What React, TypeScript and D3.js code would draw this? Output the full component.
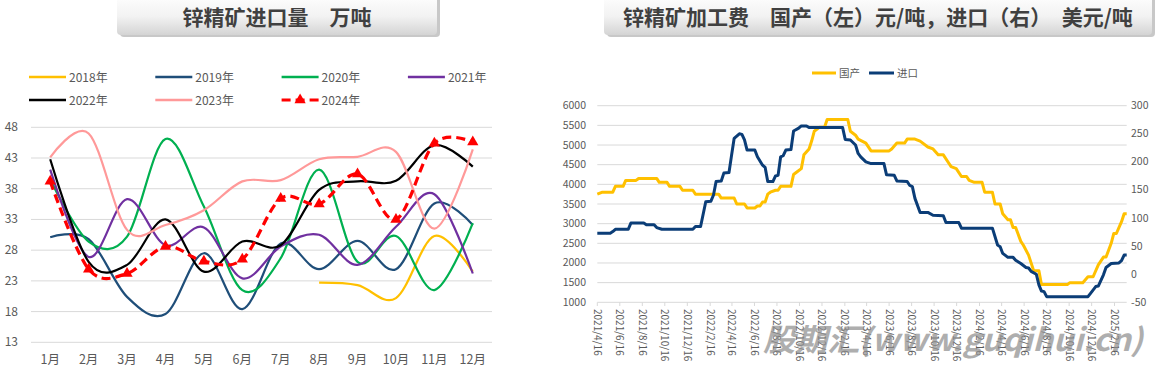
import React from 'react';
import * as d3 from 'd3';

const FONT = '"Noto Sans CJK SC", "Noto Sans", sans-serif';
const GRID = '#d9d9d9';
const TXT = '#595959';

// ---- left chart: monthly zinc concentrate imports (10k t) ----
const months = ['1月', '2月', '3月', '4月', '5月', '6月', '7月', '8月', '9月', '10月', '11月', '12月'];
const leftTicks = [13, 18, 23, 28, 33, 38, 43, 48];
const yearNames = ['2018年', '2019年', '2020年', '2021年', '2022年', '2023年', '2024年'];
const yearColors = ['#ffc000', '#1f4e79', '#00b050', '#7030a0', '#000000', '#ff9999', '#ff0000'];

const v2018 = [null, null, null, null, null, null, null, 22.7, 22.3, 20.2, 30.3, 24.5];
const v2019 = [30.1, 29.8, 20.4, 17.6, 27.5, 18.4, 29.1, 24.9, 29.5, 24.9, 35.6, 32.1];
const v2020 = [39.5, 29.4, 30.2, 46.1, 35.1, 21.5, 26.7, 41.1, 26.1, 30.3, 21.5, 32.4];
const v2021 = [41.1, 26.9, 36.3, 28.8, 31.7, 23.4, 28.6, 30.5, 25.6, 31.8, 37.1, 24.2];
const v2022 = [42.8, 26.1, 25.6, 33.0, 24.5, 29.4, 28.8, 37.8, 39.2, 39.3, 45.1, 41.6];
const v2023 = [43.1, 47.0, 31.3, 32.1, 34.5, 39.2, 39.4, 42.8, 43.2, 44.0, 31.5, 44.4];
const v2024 = [39.2, 24.9, 24.2, 28.6, 26.2, 26.5, 36.4, 35.5, 40.4, 33.0, 45.4, 45.6];
const yearSeries = [v2018, v2019, v2020, v2021, v2022, v2023, v2024];

// ---- right chart: TC, weekly from 2021/4/16; [week, value] vertices ----
const tcStart = new Date(2021, 3, 16);
const tcWeeks = 205;
const dateTicks = ['2021/4/16', '2021/6/16', '2021/8/16', '2021/10/16', '2021/12/16', '2022/2/16',
  '2022/4/16', '2022/6/16', '2022/8/16', '2022/10/16', '2022/12/16', '2023/2/16', '2023/4/16',
  '2023/6/16', '2023/8/16', '2023/10/16', '2023/12/16', '2024/2/16', '2024/4/16', '2024/6/16',
  '2024/8/16', '2024/10/16', '2024/12/16', '2025/2/16'];
const domesticTicks = [1000, 1500, 2000, 2500, 3000, 3500, 4000, 4500, 5000, 5500, 6000];
const importTicks = [-50, 0, 50, 100, 150, 200, 250, 300];

const domesticTC: [number, number][] = [
  [0, 3750], [2, 3800], [6, 3800], [7, 3950], [10, 3950], [11, 4100], [15, 4100], [16, 4150],
  [23, 4150], [24, 4050], [27, 4050], [28, 3950], [32, 3950], [33, 3850], [37, 3850], [38, 3750],
  [47, 3750], [48, 3650], [53, 3650], [54, 3500], [57, 3500], [58, 3400], [61, 3400], [62, 3450],
  [63, 3450], [64, 3550], [65, 3550], [66, 3750], [67, 3800], [69, 3850], [70, 3850], [71, 3950],
  [75, 3950], [76, 4250], [77, 4300], [79, 4400], [80, 4750], [82, 4900], [83, 5100], [84, 5350],
  [86, 5450], [88, 5450], [89, 5650], [97, 5650], [98, 5350], [100, 5250], [101, 5150], [104, 5050],
  [106, 4850], [113, 4850], [114, 4900], [116, 5050], [119, 5050], [120, 5150], [123, 5150],
  [125, 5100], [128, 4950], [130, 4900], [132, 4750], [134, 4750], [136, 4550], [137, 4450],
  [139, 4400], [141, 4200], [143, 4200], [144, 4100], [146, 4050], [149, 4050], [150, 3800],
  [153, 3800], [154, 3500], [156, 3500], [157, 3250], [159, 3100], [160, 3100], [161, 2900],
  [162, 2900], [164, 2550], [165, 2450], [167, 2200], [169, 1800], [171, 1800], [172, 1450],
  [182, 1450], [183, 1500], [188, 1500], [190, 1650], [192, 1650], [194, 1950], [196, 2150],
  [197, 2150], [199, 2500], [200, 2750], [201, 2750], [203, 3050], [204, 3250], [205, 3250],
];

const importTC: [number, number][] = [
  [0, 73], [5, 73], [6, 76], [7, 80], [12, 80], [13, 91], [18, 91], [19, 88], [22, 88], [23, 83],
  [25, 80], [37, 80], [38, 85], [40, 85], [42, 129], [44, 130], [45, 141], [46, 165], [48, 166],
  [49, 180], [51, 181], [52, 212], [53, 242], [55, 250], [56, 249], [57, 239], [58, 221], [61, 221],
  [62, 209], [64, 194], [65, 190], [66, 165], [68, 165], [69, 175], [70, 176], [71, 209], [72, 211],
  [73, 221], [75, 222], [76, 255], [78, 260], [79, 264], [81, 264], [82, 261], [95, 261], [96, 240],
  [98, 239], [100, 230], [101, 215], [102, 209], [104, 200], [106, 197], [111, 197], [112, 177],
  [115, 176], [116, 166], [120, 165], [121, 158], [122, 156], [123, 135], [125, 110], [128, 110],
  [130, 105], [134, 104], [135, 92], [140, 92], [141, 82], [153, 82], [155, 52], [156, 49],
  [157, 37], [159, 30], [161, 30], [162, 25], [164, 19], [166, 12], [167, 11], [168, 5], [170, 0],
  [171, -19], [172, -30], [173, -31], [174, -40], [190, -40], [191, -34], [193, -22], [194, -21],
  [196, -1], [197, 12], [199, 19], [202, 20], [203, 24], [204, 34], [205, 34],
];

const Banner: React.FC<{ x: number; w: number; text: string; id: string }> = ({ x, w, text, id }) => (
  <g>
    <defs>
      <linearGradient id={id} x1="0" y1="0" x2="0" y2="1">
        <stop offset="0%" stopColor="#ffffff" />
        <stop offset="55%" stopColor="#f2f2f2" />
        <stop offset="100%" stopColor="#d4d4d4" />
      </linearGradient>
    </defs>
    <rect x={x + 3} y={-4} width={w} height={41} rx={4} fill="#9a9a9a" opacity={0.55} />
    <rect x={x} y={-6} width={w} height={41} rx={4} fill={`url(#${id})`} />
    <text x={x + w / 2} y={25} textAnchor="middle" fontSize={21} fontWeight="bold" fill="#404040"
      fontFamily={FONT}>{text}</text>
  </g>
);

const LeftChart: React.FC = () => {
  const x = d3.scalePoint<string>().domain(months).range([31, 492]).padding(0.5);
  const y = d3.scaleLinear().domain([13, 48]).range([342.3, 127.3]);
  const line = d3.line<number | null>()
    .defined(v => v != null)
    .x((_, i) => x(months[i]) as number)
    .y(v => y(v as number))
    .curve(d3.curveCardinal.tension(0));
  const tri = d3.symbol(d3.symbolTriangle, 55)() as string;

  return (
    <g fontFamily={FONT}>
      {leftTicks.map(t => (
        <g key={t}>
          <line x1={31} x2={492} y1={y(t)} y2={y(t)} stroke={GRID} strokeWidth={1} />
          <text x={18} y={y(t) + 4} textAnchor="end" fontSize={12} fill={TXT}>{t}</text>
        </g>
      ))}
      {months.map(m => (
        <text key={m} x={x(m)} y={364} textAnchor="middle" fontSize={12.5} fill={TXT}>{m}</text>
      ))}
      {yearSeries.map((s, i) => (
        <path key={yearNames[i]} d={line(s) as string} fill="none" stroke={yearColors[i]}
          strokeWidth={i === 6 ? 3.2 : 2.2} strokeDasharray={i === 6 ? '9,5' : undefined}
          strokeLinecap="butt" />
      ))}
      {v2024.map((v, i) => (
        <path key={i} d={tri} transform={`translate(${x(months[i])},${y(v)})`} fill="#ff0000" />
      ))}
      {yearNames.map((n, i) => {
        const lx = 29 + (i % 4) * 126.3;
        const ly = i < 4 ? 77 : 100;
        return (
          <g key={n}>
            <line x1={lx} x2={lx + 37} y1={ly} y2={ly} stroke={yearColors[i]}
              strokeWidth={i === 6 ? 3.2 : 2.5} strokeDasharray={i === 6 ? '9,5' : undefined} />
            {i === 6 && <path d={tri} transform={`translate(${lx + 18.5},${ly})`} fill="#ff0000" />}
            <text x={lx + 40} y={ly + 4.5} fontSize={12} fill={TXT}>{n}</text>
          </g>
        );
      })}
    </g>
  );
};

const RightChart: React.FC = () => {
  const toDate = (w: number) => d3.timeDay.offset(tcStart, w * 7);
  const x = d3.scaleTime().domain([tcStart, toDate(tcWeeks)]).range([597.3, 1126.7]);
  const yL = d3.scaleLinear().domain([1000, 6000]).range([302.3, 105.7]);
  const yR = d3.scaleLinear().domain([-50, 300]).range([302.3, 105.7]);
  const parse = (s: string) => {
    const [yy, mm, dd] = s.split('/').map(Number);
    return new Date(yy, mm - 1, dd);
  };
  const lineL = d3.line<[number, number]>().x(d => x(toDate(d[0]))).y(d => yL(d[1]));
  const lineR = d3.line<[number, number]>().x(d => x(toDate(d[0]))).y(d => yR(d[1]));

  return (
    <g fontFamily={FONT}>
      {domesticTicks.map(t => (
        <g key={t}>
          <line x1={597.3} x2={1126.7} y1={yL(t)} y2={yL(t)} stroke={GRID} strokeWidth={1} />
          <text x={586} y={yL(t) + 3.5} textAnchor="end" fontSize={10.5} fill={TXT}>{t}</text>
        </g>
      ))}
      {importTicks.map(t => (
        <text key={t} x={1131} y={yR(t) + 3.5} fontSize={10.5} fill={TXT}>{t}</text>
      ))}
      {dateTicks.map(s => {
        const px = x(parse(s));
        return (
          <g key={s}>
            <line x1={px} x2={px} y1={302.3} y2={306} stroke={GRID} />
            <text transform={`translate(${px - 3.5},309) rotate(90)`} fontSize={10} fill={TXT}>{s}</text>
          </g>
        );
      })}
      <path d={lineL(domesticTC) as string} fill="none" stroke="#ffc000" strokeWidth={3}
        strokeLinejoin="round" />
      <path d={lineR(importTC) as string} fill="none" stroke="#0b3d77" strokeWidth={3}
        strokeLinejoin="round" />
      <line x1={812} x2={836} y1={73} y2={73} stroke="#ffc000" strokeWidth={3} />
      <text x={839} y={77} fontSize={10.5} fill={TXT}>国产</text>
      <line x1={869} x2={894} y1={73} y2={73} stroke="#0b3d77" strokeWidth={3} />
      <text x={897} y={77} fontSize={10.5} fill={TXT}>进口</text>
      <text x={763} y={351} fontSize={31} fontWeight="bold" fontStyle="italic" fill="#8f8f8f"
        opacity={0.72} textLength={380} lengthAdjust="spacingAndGlyphs">股期汇(www.guqihui.cn)</text>
    </g>
  );
};

export default function App() {
  return (
    <div style={{ position: 'absolute', left: 0, top: 0, width: 1162, height: 371, background: '#fff' }}>
      <svg width={1162} height={371} viewBox="0 0 1162 371">
        <rect width={1162} height={371} fill="#ffffff" />
        <Banner x={117} w={320} text="锌精矿进口量　万吨" id="bannerL" />
        <Banner x={604} w={548} text="锌精矿加工费　国产（左）元/吨，进口（右）　美元/吨" id="bannerR" />
        <LeftChart />
        <RightChart />
      </svg>
    </div>
  );
}
